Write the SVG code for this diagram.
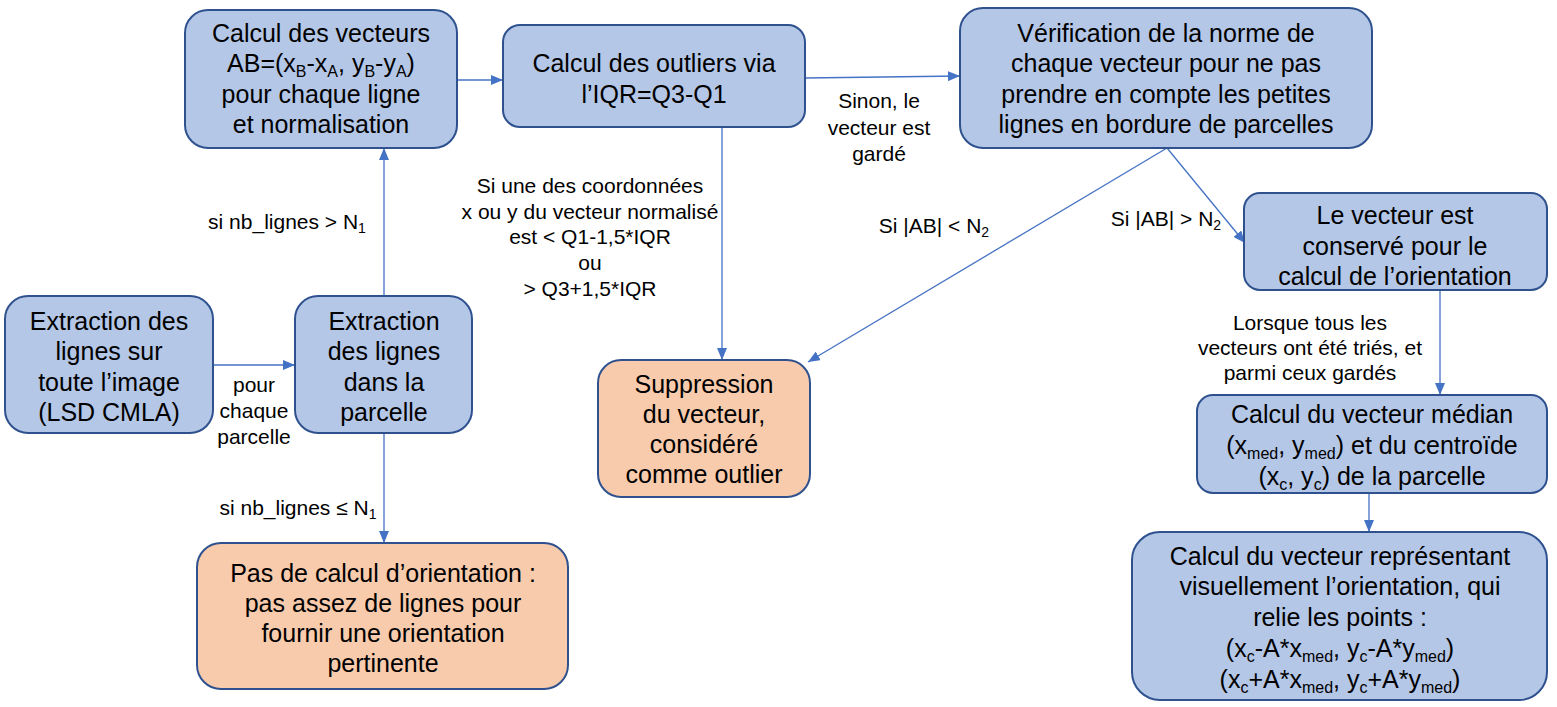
<svg xmlns="http://www.w3.org/2000/svg" width="1557" height="707" viewBox="0 0 1557 707">
<style>
.nb{fill:#B4C7E7;stroke:#2F528F;stroke-width:2}
.no{fill:#F8CBAD;stroke:#2F528F;stroke-width:2}
.t{font-family:"Liberation Sans",Arial,sans-serif;font-size:25px;fill:#000;text-anchor:middle}
.l{font-family:"Liberation Sans",Arial,sans-serif;font-size:21px;fill:#000;text-anchor:middle}
.s{font-size:16px}
.ls{font-size:14px}
.c{stroke:#4472C4;stroke-width:1.3;fill:none;marker-end:url(#ah)}
</style>
<defs>
<marker id="ah" viewBox="0 0 12 10" refX="12" refY="5" markerWidth="12" markerHeight="10" markerUnits="userSpaceOnUse" orient="auto">
<path d="M0,0 L12,5 L0,10 Z" fill="#4472C4"/>
</marker>
</defs>
<rect width="1557" height="707" fill="#fff"/>

<g id="connectors">
<line class="c" x1="213" y1="365" x2="295" y2="365"/>
<line class="c" x1="384" y1="296" x2="384" y2="148"/>
<line class="c" x1="384" y1="433" x2="384" y2="543"/>
<line class="c" x1="457" y1="80" x2="503" y2="80"/>
<line class="c" x1="722" y1="127" x2="722" y2="360"/>
<line class="c" x1="805" y1="78" x2="960" y2="76"/>
<line class="c" x1="1167" y1="148" x2="808" y2="362"/>
<line class="c" x1="1167" y1="148" x2="1245" y2="243"/>
<line class="c" x1="1440" y1="290" x2="1440" y2="395"/>
<line class="c" x1="1369" y1="493" x2="1369" y2="532"/>
<text class="l"><tspan x="254" y="392">pour</tspan><tspan x="254" y="418">chaque</tspan><tspan x="254" y="444">parcelle</tspan></text>
<text class="l" x="287" y="229">si nb_lignes &gt; N<tspan class="ls" dy="4">1</tspan></text>
<text class="l" x="298" y="515">si nb_lignes ≤ N<tspan class="ls" dy="4">1</tspan></text>
<text class="l"><tspan x="590" y="193">Si une des coordonnées</tspan><tspan x="590" y="219">x ou y du vecteur normalisé</tspan><tspan x="590" y="244">est &lt; Q1-1,5*IQR</tspan><tspan x="590" y="270">ou</tspan><tspan x="590" y="296">&gt; Q3+1,5*IQR</tspan></text>
<text class="l"><tspan x="879" y="108">Sinon, le</tspan><tspan x="879" y="135">vecteur est</tspan><tspan x="879" y="161">gardé</tspan></text>
<text class="l" x="934" y="233">Si |AB| &lt; N<tspan class="ls" dy="4">2</tspan></text>
<text class="l" x="1166" y="226">Si |AB| &gt; N<tspan class="ls" dy="4">2</tspan></text>
<text class="l"><tspan x="1310" y="330">Lorsque tous les</tspan><tspan x="1310" y="355">vecteurs ont été triés, et</tspan><tspan x="1310" y="380">parmi ceux gardés</tspan></text>
</g>

<g id="node-vecteurs">
<rect class="nb" x="185" y="10" width="272" height="138" rx="23"/>
<text class="t"><tspan x="321" y="42">Calcul des vecteurs</tspan><tspan x="321" y="72">AB=(x<tspan class="s" dy="5">B</tspan><tspan dy="-5">-x</tspan><tspan class="s" dy="5">A</tspan><tspan dy="-5">, y</tspan><tspan class="s" dy="5">B</tspan><tspan dy="-5">-y</tspan><tspan class="s" dy="5">A</tspan><tspan dy="-5">)</tspan></tspan><tspan x="321" y="103">pour chaque ligne</tspan><tspan x="321" y="133">et normalisation</tspan></text>
</g>

<g id="node-outliers">
<rect class="nb" x="503" y="25" width="302" height="102" rx="17"/>
<text class="t"><tspan x="654" y="72">Calcul des outliers via</tspan><tspan x="654" y="103">l’IQR=Q3-Q1</tspan></text>
</g>

<g id="node-verification">
<rect class="nb" x="960" y="8" width="412" height="140" rx="23"/>
<text class="t"><tspan x="1166" y="42">Vérification de la norme de</tspan><tspan x="1166" y="72">chaque vecteur pour ne pas</tspan><tspan x="1166" y="103">prendre en compte les petites</tspan><tspan x="1166" y="133">lignes en bordure de parcelles</tspan></text>
</g>

<g id="node-conserve">
<rect class="nb" x="1244" y="193" width="303" height="97" rx="16"/>
<text class="t"><tspan x="1395" y="224">Le vecteur est</tspan><tspan x="1395" y="255">conservé pour le</tspan><tspan x="1395" y="285">calcul de l’orientation</tspan></text>
</g>

<g id="node-median">
<rect class="nb" x="1197" y="395" width="350" height="98" rx="16"/>
<text class="t"><tspan x="1372" y="423">Calcul du vecteur médian</tspan><tspan x="1372" y="454">(x<tspan class="s" dy="5">med</tspan><tspan dy="-5">, y</tspan><tspan class="s" dy="5">med</tspan><tspan dy="-5">) et du centroïde</tspan></tspan><tspan x="1372" y="485">(x<tspan class="s" dy="5">c</tspan><tspan dy="-5">, y</tspan><tspan class="s" dy="5">c</tspan><tspan dy="-5">) de la parcelle</tspan></tspan></text>
</g>

<g id="node-representant">
<rect class="nb" x="1132" y="532" width="415" height="168" rx="28"/>
<text class="t"><tspan x="1340" y="565">Calcul du vecteur représentant</tspan><tspan x="1340" y="595">visuellement l’orientation, qui</tspan><tspan x="1340" y="626">relie les points :</tspan><tspan x="1340" y="657">(x<tspan class="s" dy="5">c</tspan><tspan dy="-5">-A*x</tspan><tspan class="s" dy="5">med</tspan><tspan dy="-5">, y</tspan><tspan class="s" dy="5">c</tspan><tspan dy="-5">-A*y</tspan><tspan class="s" dy="5">med</tspan><tspan dy="-5">)</tspan></tspan><tspan x="1340" y="688">(x<tspan class="s" dy="5">c</tspan><tspan dy="-5">+A*x</tspan><tspan class="s" dy="5">med</tspan><tspan dy="-5">, y</tspan><tspan class="s" dy="5">c</tspan><tspan dy="-5">+A*y</tspan><tspan class="s" dy="5">med</tspan><tspan dy="-5">)</tspan></tspan></text>
</g>

<g id="node-extraction-image">
<rect class="nb" x="5" y="296" width="208" height="137" rx="23"/>
<text class="t"><tspan x="109" y="330">Extraction des</tspan><tspan x="109" y="360">lignes sur</tspan><tspan x="109" y="391">toute l’image</tspan><tspan x="109" y="421">(LSD CMLA)</tspan></text>
</g>

<g id="node-extraction-parcelle">
<rect class="nb" x="295" y="296" width="177" height="137" rx="23"/>
<text class="t"><tspan x="384" y="330">Extraction</tspan><tspan x="384" y="360">des lignes</tspan><tspan x="384" y="391">dans la</tspan><tspan x="384" y="421">parcelle</tspan></text>
</g>

<g id="node-suppression">
<rect class="no" x="598" y="360" width="212" height="137" rx="23"/>
<text class="t"><tspan x="704" y="393">Suppression</tspan><tspan x="704" y="423">du vecteur,</tspan><tspan x="704" y="453">considéré</tspan><tspan x="704" y="483">comme outlier</tspan></text>
</g>

<g id="node-pas-de-calcul">
<rect class="no" x="197" y="543" width="371" height="146" rx="24"/>
<text class="t"><tspan x="383" y="582">Pas de calcul d’orientation :</tspan><tspan x="383" y="612">pas assez de lignes pour</tspan><tspan x="383" y="642">fournir une orientation</tspan><tspan x="383" y="672">pertinente</tspan></text>
</g>
</svg>
